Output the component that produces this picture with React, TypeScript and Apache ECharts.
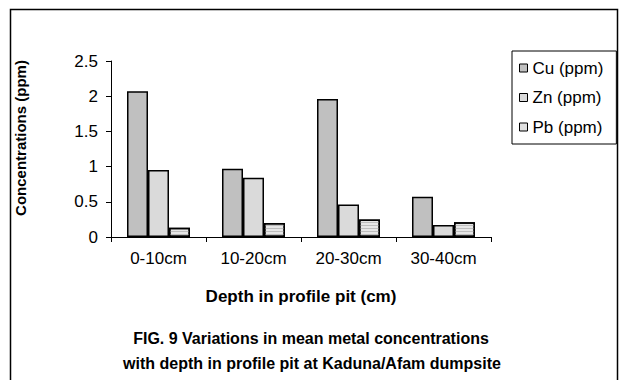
import React, { useEffect, useRef } from "react";
import * as echarts from "echarts";

const categories = ["0-10cm", "10-20cm", "20-30cm", "30-40cm"];
const cuValues = [2.07, 0.97, 1.96, 0.57];
const znValues = [0.95, 0.84, 0.46, 0.17];
const pbValues = [0.13, 0.2, 0.25, 0.21];
const seriesNames = ["Cu (ppm)", "Zn (ppm)", "Pb (ppm)"];
const yTitle = "Concentrations (ppm)";
const xTitle = "Depth in profile pit (cm)";
const captionLines = [
  "FIG. 9 Variations in mean metal concentrations",
  "with depth in profile pit at Kaduna/Afam dumpsite",
];

const FONT = "Liberation Sans, Arial, sans-serif";

export default function App() {
  const ref = useRef<HTMLDivElement>(null);
  useEffect(() => {
    if (!ref.current) return;
    const chart = echarts.init(ref.current, undefined, { renderer: "svg" });
    const barStyle = (color: string, decalColor: string | null, gap: number) => ({
      color,
      borderColor: "#000",
      borderWidth: 1.5,
      decal: decalColor
        ? {
            symbol: "rect",
            symbolSize: 1,
            color: decalColor,
            dashArrayX: [1, 0],
            dashArrayY: [1, gap],
            rotation: 0,
          }
        : undefined,
    });
    chart.setOption({
      animation: false,
      backgroundColor: "#fff",
      textStyle: { fontFamily: FONT },
      grid: { left: 111, right: 132, top: 61, bottom: 143, containLabel: false },
      legend: {
        orient: "vertical",
        left: 512,
        top: 51,
        padding: [8, 13, 8, 7],
        itemWidth: 8,
        itemHeight: 8,
        itemGap: 11.5,
        borderColor: "#000",
        borderWidth: 1,
        icon: "rect",
        itemStyle: { borderWidth: 1, borderColor: "#000" },
        textStyle: { fontSize: 17, color: "#000", fontFamily: FONT, lineHeight: 18 },
        data: [
          { name: seriesNames[0] },
          { name: seriesNames[1] },
          { name: seriesNames[2], itemStyle: { decal: "none", color: "#e0e0e0" } },
        ],
      },
      xAxis: {
        type: "category",
        data: categories,
        axisLine: { show: true, lineStyle: { color: "#000", width: 1 } },
        axisTick: { show: true, alignWithLabel: false, length: 5, lineStyle: { color: "#000" } },
        axisLabel: { fontSize: 17, color: "#000", margin: 13, fontFamily: FONT },
        splitLine: { show: false },
      },
      yAxis: {
        type: "value",
        min: 0,
        max: 2.5,
        interval: 0.5,
        axisLine: { show: true, lineStyle: { color: "#000", width: 1 } },
        axisTick: { show: true, length: 5, lineStyle: { color: "#000" } },
        axisLabel: { fontSize: 17, color: "#000", margin: 13, fontFamily: FONT },
        splitLine: { show: false },
      },
      series: [
        {
          name: seriesNames[0],
          type: "bar",
          data: cuValues,
          barGap: "0%",
          barCategoryGap: "33.7%",
          itemStyle: barStyle("#c0c0c0", null, 2),
        },
        {
          name: seriesNames[1],
          type: "bar",
          data: znValues,
          barGap: "0%",
          barCategoryGap: "33.7%",
          itemStyle: barStyle("#dadada", null, 1),
        },
        {
          name: seriesNames[2],
          type: "bar",
          data: pbValues,
          barGap: "0%",
          barCategoryGap: "33.7%",
          itemStyle: barStyle("#e6e6e6", "#bdbdbd", 2),
        },
      ],
      graphic: [
        {
          type: "rect",
          shape: { x: 10.5, y: 9.5, width: 607, height: 420 },
          style: { fill: "none", stroke: "#000", lineWidth: 1.5 },
          silent: true,
          z: -1,
        },
        {
          type: "text",
          x: 20,
          y: 138,
          rotation: Math.PI / 2,
          style: {
            text: yTitle,
            font: `bold 15px ${FONT}`,
            fill: "#000",
            align: "center",
            verticalAlign: "middle",
          },
        },
        {
          type: "text",
          x: 301,
          y: 296,
          style: {
            text: xTitle,
            font: `bold 17px ${FONT}`,
            fill: "#000",
            align: "center",
            verticalAlign: "middle",
          },
        },
        {
          type: "text",
          x: 311,
          y: 338,
          style: {
            text: captionLines[0],
            font: `bold 16px ${FONT}`,
            fill: "#000",
            align: "center",
            verticalAlign: "middle",
          },
        },
        {
          type: "text",
          x: 312,
          y: 363,
          style: {
            text: captionLines[1],
            font: `bold 16px ${FONT}`,
            fill: "#000",
            align: "center",
            verticalAlign: "middle",
          },
        },
      ],
    });
    return () => chart.dispose();
  }, []);
  return (
    <div
      ref={ref}
      style={{ position: "fixed", left: 0, top: 0, width: 623, height: 380, background: "#fff" }}
    />
  );
}
